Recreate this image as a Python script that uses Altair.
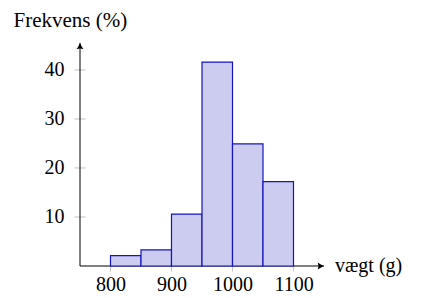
import altair as alt
import pandas as pd

# Data
bin_start = [800, 850, 900, 950, 1000, 1050]
bin_end = [850, 900, 950, 1000, 1050, 1100]
freq = [2.1, 3.3, 10.6, 41.6, 24.9, 17.2]
x_ticks = [800, 900, 1000, 1100]
y_ticks = [10, 20, 30, 40]
x_title = "vægt (g)"
y_title = "Frekvens (%)"

XMIN, XMAX = 750, 1150
YMAX = 45.5
FONT = "Liberation Serif"
FS = 20

bars_df = pd.DataFrame({"start": bin_start, "end": bin_end, "freq": freq})
xscale = alt.Scale(domain=[XMIN, XMAX], nice=False, zero=False)
yscale = alt.Scale(domain=[0, YMAX], nice=False)

bars = alt.Chart(bars_df).mark_rect(
    fill="#ccccf0", stroke="#1414bf", strokeWidth=1.2
).encode(
    x=alt.X("start:Q", scale=xscale, axis=alt.Axis(
        values=x_ticks, domain=False, ticks=False, grid=False, format="d",
        labelFont=FONT, labelFontSize=FS, labelColor="black", labelPadding=8,
        title=None)),
    x2="end:Q",
    y=alt.Y("freq:Q", scale=yscale, axis=alt.Axis(
        values=y_ticks, domain=False, ticks=False, grid=False,
        labelFont=FONT, labelFontSize=FS, labelColor="black", labelPadding=16,
        title=y_title, titleAngle=0, titleX=-67, titleY=-17,
        titleAlign="left", titleBaseline="alphabetic", titleFont=FONT,
        titleFontSize=21, titleFontWeight="normal", titleColor="black")),
    y2=alt.datum(0),
)

ytick_df = pd.DataFrame({"v": y_ticks, "x0": [XMIN] * len(y_ticks)})
yticks = alt.Chart(ytick_df).mark_tick(
    orient="horizontal", size=11, thickness=1, color="#a8a8a8"
).encode(x=alt.X("x0:Q", scale=xscale), y=alt.Y("v:Q", scale=yscale))

xtick_df = pd.DataFrame({"v": x_ticks, "y0": [0] * len(x_ticks)})
xticks = alt.Chart(xtick_df).mark_tick(
    orient="vertical", size=11, thickness=1, color="#a8a8a8"
).encode(x=alt.X("v:Q", scale=xscale), y=alt.Y("y0:Q", scale=yscale))

xaxis_df = pd.DataFrame({"x": [XMIN], "x2": [XMAX], "y": [0]})
xaxis = alt.Chart(xaxis_df).mark_rule(color="black", strokeWidth=1).encode(
    x=alt.X("x:Q", scale=xscale), x2="x2:Q", y=alt.Y("y:Q", scale=yscale))

yaxis_df = pd.DataFrame({"x": [XMIN], "y": [0], "y2": [YMAX]})
yaxis = alt.Chart(yaxis_df).mark_rule(color="black", strokeWidth=1).encode(
    x=alt.X("x:Q", scale=xscale), y=alt.Y("y:Q", scale=yscale), y2="y2:Q")

arrow_df = pd.DataFrame({"x": [XMAX, XMIN], "y": [0, YMAX], "a": [0, 270]})
arrows = alt.Chart(arrow_df).mark_point(
    shape="M0,0 Q-0.8,-0.3 -1.8,-1 Q-1.3,0 -1.8,1 Q-0.8,0.3 0,0 Z",
    filled=True, color="black", size=49, opacity=1
).encode(
    x=alt.X("x:Q", scale=xscale), y=alt.Y("y:Q", scale=yscale),
    angle=alt.Angle("a:Q", scale=None))

xlab_df = pd.DataFrame({"x": [XMAX], "y": [0], "t": [x_title]})
xlab = alt.Chart(xlab_df).mark_text(
    align="left", baseline="middle", dx=11, font=FONT, fontSize=FS, color="black"
).encode(x=alt.X("x:Q", scale=xscale), y=alt.Y("y:Q", scale=yscale), text="t:N")

chart = alt.layer(yticks, xticks, xaxis, yaxis, bars, arrows, xlab).properties(
    width=244, height=223,
    padding={"left": 72, "top": 35, "right": 90, "bottom": 31},
    autosize=alt.AutoSizeParams(type="none"),
).configure_view(stroke=None)

chart.save("out.html", embed_options={"renderer": "svg", "actions": False})
